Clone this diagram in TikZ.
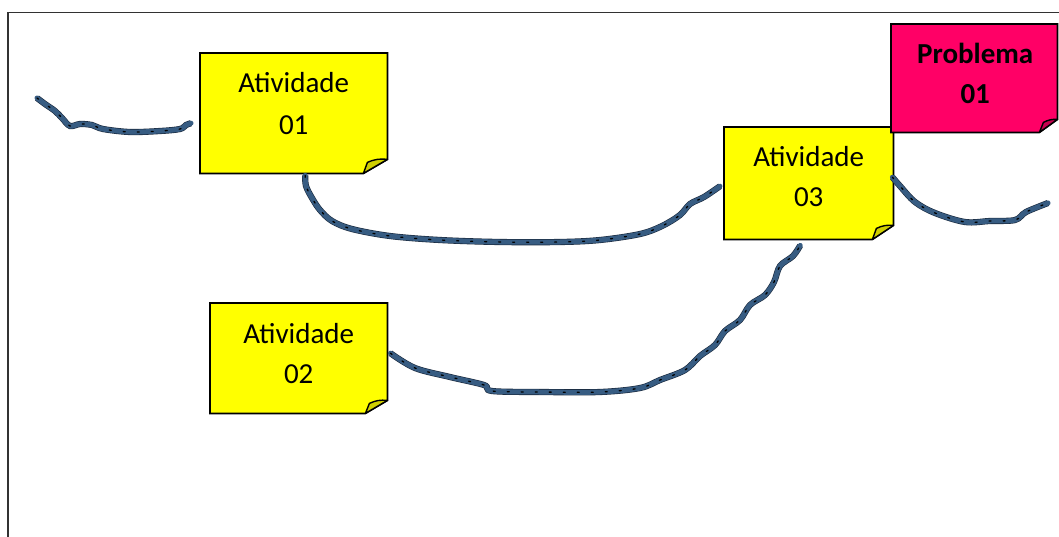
\documentclass[tikz,border=0pt]{standalone}
\usepackage{fontspec}
\setmainfont{Carlito}
\definecolor{noteyellow}{HTML}{FFFF00}
\definecolor{foldyellow}{HTML}{CFCF00}
\definecolor{notepink}{HTML}{FF0066}
\definecolor{foldpink}{HTML}{C8004F}
\definecolor{wireblue}{RGB}{55,92,130}
\definecolor{wiredark}{RGB}{25,40,60}
\definecolor{framegray}{RGB}{50,50,50}
\newcommand\stickynote[5]{%
  % #1 node name, #2 fill, #3 fold fill, #4 fold dx, #5 fold dy
  \filldraw[fill=#2, draw=black, line width=1.7pt, line join=miter]
    (#1.north west) -- (#1.north east) -- ([yshift=#5pt]#1.south east)
    -- ([xshift=-#4pt]#1.south east) -- (#1.south west) -- cycle;
  \filldraw[fill=#3, draw=black, line width=1.4pt, line join=round]
    ([xshift=-#4pt]#1.south east) -- ([xshift=-#4pt+4pt,yshift=#5pt-3pt]#1.south east)
    to[bend left=15] ([yshift=#5pt]#1.south east) -- cycle;
}
\tikzset{
  notebox/.style={rectangle, draw=none, inner sep=0pt, anchor=north west},
  notetext/.style={anchor=base, inner sep=0pt, font=\fontsize{29}{35}\selectfont, text=black},
  wire/.style={line width=5pt, draw=wireblue, line cap=round, line join=round,
    preaction={draw=wiredark, line width=6.2pt},
    postaction={draw=black, line width=1.3pt, dash pattern=on 2pt off 12pt}},
  frameline/.style={draw=framegray, line width=1.6pt}
}
\begin{document}
\begin{tikzpicture}[x=1pt, y=-1pt]
\fill[white] (0,0) rectangle (1059,536);
\useasboundingbox (0,0) rectangle (1059,536);
\begin{scope}
\clip (0,0) rectangle (1059,536);
\draw[frameline] (8,540) -- (8,12.5) -- (1065,12.5);

% boxes
\node[notebox, minimum width=187pt, minimum height=120pt] (a01) at (200,53) {};
\node[notebox, minimum width=177pt, minimum height=110pt] (a02) at (210,303) {};
\node[notebox, minimum width=169pt, minimum height=112pt] (a03) at (724,127) {};
\node[notebox, minimum width=166pt, minimum height=108pt] (p01) at (891,24) {};

\stickynote{a01}{noteyellow}{foldyellow}{24}{14}
\stickynote{a02}{noteyellow}{foldyellow}{22}{13}
\stickynote{a03}{noteyellow}{foldyellow}{21}{14}
\stickynote{p01}{notepink}{foldpink}{18}{13}

\node[notetext] (a01l1) at ([yshift=-39pt]a01.north) {Atividade};
\node[notetext] (a01l2) at ([yshift=-81pt]a01.north) {01};
\node[notetext] (a02l1) at ([yshift=-40pt]a02.north) {Atividade};
\node[notetext] (a02l2) at ([yshift=-80pt]a02.north) {02};
\node[notetext] (a03l1) at ([yshift=-39pt]a03.north) {Atividade};
\node[notetext] (a03l2) at ([yshift=-79pt]a03.north) {03};
\node[notetext, font=\fontsize{29}{35}\selectfont\bfseries] (p01l1) at ([xshift=1pt,yshift=-39pt]p01.north) {Problema};
\node[notetext, font=\fontsize{29}{35}\selectfont\bfseries] (p01l2) at ([xshift=1pt,yshift=-79pt]p01.north) {01};

% free ends
\coordinate (lfree) at (37,98);
\coordinate (rfree) at (1048,203);

% connectors
\draw[wire] plot[smooth, tension=0.55] coordinates {(lfree) (45,104) (55,111) (62,118) (70,126) (80,124) (92,125) (103,129) (130,132) (160,131) (180,129) (186,125) ([xshift=-9pt,yshift=-10pt]a01.west)};
\draw[wire] plot[smooth, tension=0.55] coordinates {([xshift=11.5pt,yshift=-2pt]a01.south) (306,186) (312,198) (320,210) (332,221) (352,229) (390,236) (440,240) (500,242) (560,242) (600,240) (640,234) (662,226) (680,215) (690,204) (704,197) ([xshift=-4pt,yshift=-3pt]a03.west)};
\draw[wire] plot[smooth, tension=0.55] coordinates {([xshift=3pt,yshift=5pt]a02.east) (415,368) (450,377) (484,385) (492,391) (540,392) (600,392) (640,388) (660,380) (685,370) (700,356) (715,345) (725,331) (740,320) (750,305) (765,295) (774,282) (780,266) (793,256) ([xshift=-8.5pt,yshift=-6pt]a03.south)};
\draw[wire] plot[smooth, tension=0.55] coordinates {([xshift=-1pt,yshift=6pt]a03.east) (900,186) (915,202) (935,213) (965,222) (990,221) (1015,220) (1026,212) (rfree)};
\end{scope}
\end{tikzpicture}
\end{document}
